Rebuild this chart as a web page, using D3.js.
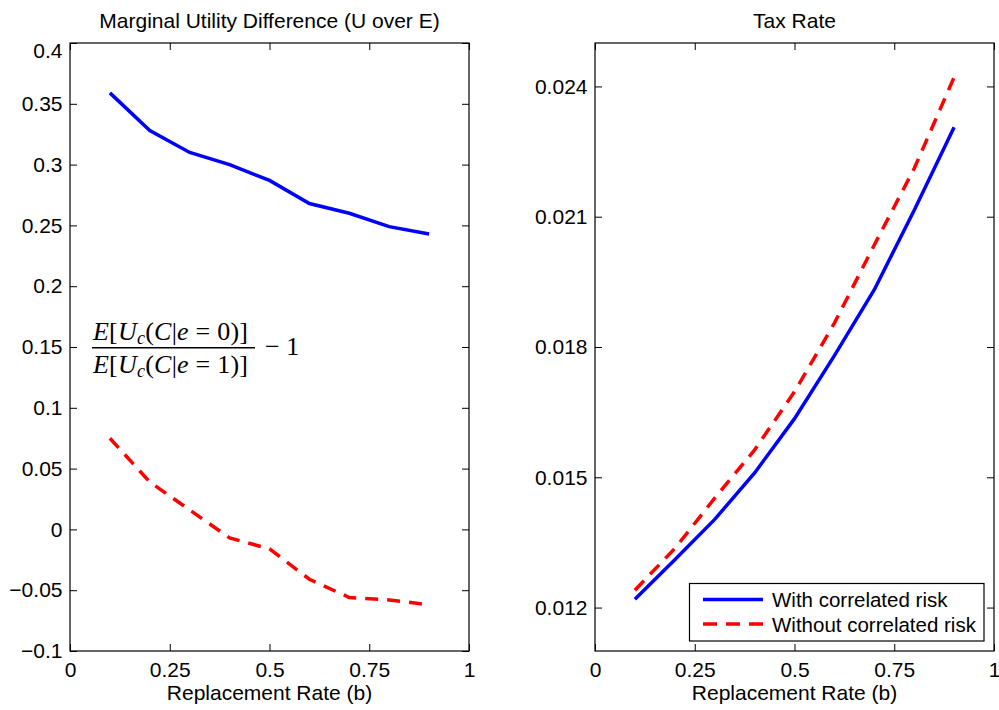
<!DOCTYPE html>
<html>
<head>
<meta charset="utf-8">
<script src="https://cdn.jsdelivr.net/npm/d3@7"></script>
<style>
  html, body { margin: 0; padding: 0; background: #fff; }
  svg { display: block; }
  text { fill: #000; }
</style>
</head>
<body>
<svg id="chart" width="999" height="710"></svg>
<script>
// Replacement rate grid shared by both panels
const replacementRate = [0.1, 0.2, 0.3, 0.4, 0.5, 0.6, 0.7, 0.8, 0.9];

// Left panel: E[Uc(C|e=0)] / E[Uc(C|e=1)] - 1
const muDiffWith    = [0.359, 0.328, 0.310, 0.300, 0.287, 0.268, 0.260, 0.249, 0.243];
const muDiffWithout = [0.075, 0.039, 0.016, -0.007, -0.016, -0.041, -0.056, -0.058, -0.062];

// Right panel: tax rate
const taxWith    = [0.01219, 0.01310, 0.01403, 0.01510, 0.01635, 0.01780, 0.01932, 0.02115, 0.02306];
const taxWithout = [0.01240, 0.01336, 0.01452, 0.01563, 0.01697, 0.01855, 0.02035, 0.02211, 0.02421];

// Axis ticks and labels
const xTicks = [0, 0.25, 0.5, 0.75, 1];
const xTickLabels = ["0", "0.25", "0.5", "0.75", "1"];
const leftYTicks = [-0.1, -0.05, 0, 0.05, 0.1, 0.15, 0.2, 0.25, 0.3, 0.35, 0.4];
const leftYTickLabels = ["\u22120.1", "\u22120.05", "0", "0.05", "0.1", "0.15", "0.2", "0.25", "0.3", "0.35", "0.4"];
const rightYTicks = [0.012, 0.015, 0.018, 0.021, 0.024];
const rightYTickLabels = ["0.012", "0.015", "0.018", "0.021", "0.024"];

const seriesNames = ["With correlated risk", "Without correlated risk"];
const leftTitle = "Marginal Utility Difference (U over E)";
const rightTitle = "Tax Rate";
const xLabel = "Replacement Rate (b)";

const BLUE = "#0000ff", RED = "#ff0000";
const SANS = "'Liberation Sans', Arial, Helvetica, sans-serif";
const SERIF = "'Liberation Serif', 'Times New Roman', serif";
const FS = 21, LEG_FS = 20.5, LW = 3.5, DASH = "13,9", TICK = 7;

const svg = d3.select("#chart");

function panel(opts) {
  const { left, right, top, bottom, yDomain, yTicks, yLabels, title } = opts;
  const x = d3.scaleLinear().domain([0, 1]).range([left, right]);
  const y = d3.scaleLinear().domain(yDomain).range([bottom, top]);
  const g = svg.append("g");

  const xFmt = d => xTickLabels[xTicks.indexOf(d)];
  const yFmt = d => yLabels[yTicks.indexOf(d)];

  // bottom axis with labels, ticks pointing inward
  const gb = g.append("g").attr("transform", `translate(0,${bottom})`)
    .call(d3.axisBottom(x).tickValues(xTicks).tickFormat(xFmt)
      .tickSizeInner(-TICK).tickSizeOuter(0).tickPadding(11.4));
  // top mirrored ticks
  const gt = g.append("g").attr("transform", `translate(0,${top})`)
    .call(d3.axisTop(x).tickValues(xTicks).tickFormat("")
      .tickSizeInner(-TICK).tickSizeOuter(0));
  // left axis with labels
  const gl = g.append("g").attr("transform", `translate(${left},0)`)
    .call(d3.axisLeft(y).tickValues(yTicks).tickFormat(yFmt)
      .tickSizeInner(-TICK).tickSizeOuter(0).tickPadding(7.5));
  // right mirrored ticks
  const gr = g.append("g").attr("transform", `translate(${right},0)`)
    .call(d3.axisRight(y).tickValues(yTicks).tickFormat("")
      .tickSizeInner(-TICK).tickSizeOuter(0));

  [gb, gt, gl, gr].forEach(a => {
    a.select(".domain").remove();
    a.selectAll(".tick line").attr("stroke", "#000").attr("stroke-width", 1);
    a.selectAll(".tick text")
      .style("font-family", SANS)
      .attr("font-size", FS).attr("fill", "#000");
  });

  // frame
  g.append("rect")
    .attr("x", left).attr("y", top)
    .attr("width", right - left).attr("height", bottom - top)
    .attr("fill", "none").attr("stroke", "#000").attr("stroke-width", 1.2);

  // title
  g.append("text")
    .attr("x", (left + right) / 2).attr("y", 28)
    .attr("text-anchor", "middle").attr("font-size", FS)
    .style("font-family", SANS)
    .text(title);

  // x label
  g.append("text")
    .attr("x", (left + right) / 2).attr("y", 700)
    .attr("text-anchor", "middle").attr("font-size", FS)
    .style("font-family", SANS)
    .text(xLabel);

  const line = d3.line().x((d, i) => x(replacementRate[i])).y(d => y(d));
  return { g, x, y, line, gl };
}

// ---------- left panel ----------
const L = panel({
  left: 70, right: 469, top: 43, bottom: 651,
  yDomain: [-0.1, 0.4], yTicks: leftYTicks, yLabels: leftYTickLabels,
  title: leftTitle
});
// top label sits just below the upper edge
L.gl.selectAll(".tick text").filter(d => d === 0.4).attr("dy", "0.70em");

L.g.append("path").datum(muDiffWith)
  .attr("d", L.line).attr("fill", "none")
  .attr("stroke", BLUE).attr("stroke-width", LW);
L.g.append("path").datum(muDiffWithout)
  .attr("d", L.line).attr("fill", "none")
  .attr("stroke", RED).attr("stroke-width", LW)
  .attr("stroke-dasharray", DASH);

// ratio formula annotation
const fx = 93;
const formula = L.g.append("g");

function fractionRow(yBase, digit) {
  const t = formula.append("text").attr("x", fx).attr("y", yBase)
    .style("font-family", SERIF)
    .attr("font-size", 26)
    .attr("textLength", 155).attr("lengthAdjust", "spacing")
    .style("white-space", "pre");
  t.append("tspan").attr("font-style", "italic").text("E");
  t.append("tspan").text("[");
  t.append("tspan").attr("font-style", "italic").text("U");
  t.append("tspan").attr("font-style", "italic").attr("font-size", 18).attr("dy", 4).text("c");
  t.append("tspan").attr("dy", -4).text("(");
  t.append("tspan").attr("font-style", "italic").text("C");
  t.append("tspan").text("|");
  t.append("tspan").attr("font-style", "italic").text("e");
  t.append("tspan").text("\u2005=\u2005" + digit + ")]");
}
fractionRow(340, "0");
fractionRow(373, "1");
formula.append("line")
  .attr("x1", 92).attr("x2", 255)
  .attr("y1", 347.7).attr("y2", 347.7)
  .attr("stroke", "#000").attr("stroke-width", 1.6);
formula.append("text")
  .attr("x", 265).attr("y", 355)
  .style("font-family", SERIF)
  .attr("font-size", 26)
  .style("white-space", "pre")
  .text("\u2212 1");

// ---------- right panel ----------
const R = panel({
  left: 595, right: 994, top: 43, bottom: 651,
  yDomain: [0.011, 0.025], yTicks: rightYTicks, yLabels: rightYTickLabels,
  title: rightTitle
});

R.g.append("path").datum(taxWith)
  .attr("d", R.line).attr("fill", "none")
  .attr("stroke", BLUE).attr("stroke-width", LW);
R.g.append("path").datum(taxWithout)
  .attr("d", R.line).attr("fill", "none")
  .attr("stroke", RED).attr("stroke-width", LW)
  .attr("stroke-dasharray", DASH);

// legend
const lg = R.g.append("g");
lg.append("rect")
  .attr("x", 689.5).attr("y", 583.5).attr("width", 294.5).attr("height", 57.5)
  .attr("fill", "#fff").attr("stroke", "#000").attr("stroke-width", 1.2);
const legendRows = [
  { name: seriesNames[0], color: BLUE, dash: null, y: 599.5, base: 606.7 },
  { name: seriesNames[1], color: RED, dash: "14,9", y: 624, base: 631.5 }
];
legendRows.forEach(r => {
  lg.append("line")
    .attr("x1", 703).attr("x2", 763).attr("y1", r.y).attr("y2", r.y)
    .attr("stroke", r.color).attr("stroke-width", LW)
    .attr("stroke-dasharray", r.dash);
  lg.append("text")
    .attr("x", 772).attr("y", r.base).attr("font-size", LEG_FS)
    .style("font-family", SANS)
    .text(r.name);
});
</script>
</body>
</html>
